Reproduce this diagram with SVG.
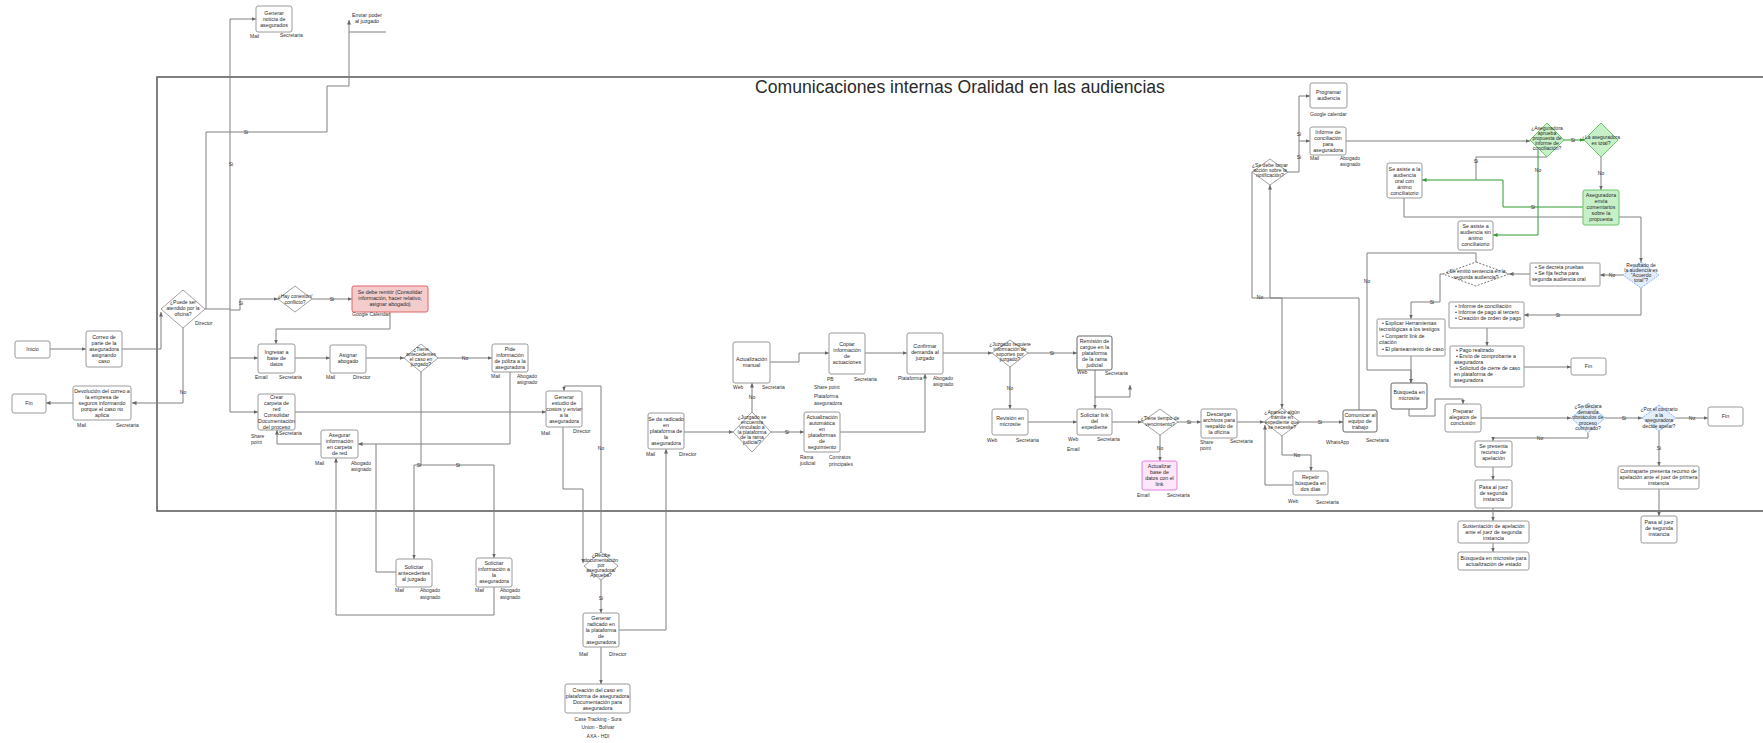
<svg xmlns="http://www.w3.org/2000/svg" width="1763" height="743" viewBox="0 0 1763 743">
<defs>
<marker id="a" markerUnits="userSpaceOnUse" markerWidth="5" markerHeight="5" refX="4.5" refY="2.5" orient="auto"><path d="M0,0.5 L4.5,2.5 L0,4.5 z" fill="#666"/></marker>
<marker id="ag" markerUnits="userSpaceOnUse" markerWidth="5" markerHeight="5" refX="4.5" refY="2.5" orient="auto"><path d="M0,0.5 L4.5,2.5 L0,4.5 z" fill="#2f9a2f"/></marker>
</defs>
<style>
text{font-family:"Liberation Sans",Arial,sans-serif;fill:#2a2a2a}
.t{font-size:5.3px;text-anchor:middle}
.d{font-size:5px;text-anchor:middle}
.l{font-size:5px;fill:#333}
.bl{font-size:5.2px}
.b{fill:#fff;stroke:#9a9a9a;stroke-width:1}
.dm{fill:#fff;stroke:#8a8a8a;stroke-width:0.8}
.red{fill:#f4cccc;stroke:#e06666;stroke-width:1}
.pink{fill:#fde7f9;stroke:#e67ee0;stroke-width:1}
.grn{fill:#c8f0c8;stroke:#6cc46c;stroke-width:1}
.blu{fill:#e3eefd;stroke:#8ab4f8;stroke-width:1;stroke-dasharray:2 1}
.dsh{fill:#fff;stroke:#555;stroke-width:0.8;stroke-dasharray:2 1.5}
.c{fill:none;stroke:#808080;stroke-width:1}
.cg{fill:none;stroke:#2f9a2f;stroke-width:1}
.ca{marker-end:url(#a)}
.cga{marker-end:url(#ag)}
.lb{font-size:5px;fill:#333;text-anchor:middle}
</style>
<rect width="1763" height="743" fill="#fff"/>
<rect x="157" y="77" width="1612" height="434" fill="none" stroke="#555" stroke-width="1.5"/>
<text x="960" y="93" style="font-size:17.6px;text-anchor:middle">Comunicaciones internas Oralidad en las audiencias</text>

<g id="connectors">
<path class="c ca" d="M50,349 H86"/>
<path class="c ca" d="M122,349 H161 V312"/>
<path class="c ca" d="M183,328 V403 H132"/>
<text class="lb" x="183" y="394">No</text>
<path class="c ca" d="M73,403 H46"/>
<path class="c" d="M205,309 H230"/>
<path class="c ca" d="M230,412 V19 H256"/>
<text class="lb" x="231" y="166">Si</text>
<path class="c ca" d="M230,358 H258"/>
<path class="c ca" d="M230,412 H258"/>
<path class="c ca" d="M230,310 H240 V299 H278"/>
<text class="lb" x="241" y="305">Si</text>
<path class="c ca" d="M206,309 V132 H327 V86 H349 V20"/>
<text class="lb" x="246" y="134">Si</text>
<path class="c ca" d="M312,299 H352"/>
<text class="lb" x="332" y="301">Si</text>
<path class="c ca" d="M390,312 V329 H276 V344"/>
<path class="c ca" d="M295,358 H330"/>
<path class="c ca" d="M366,358 H404"/>
<path class="c ca" d="M438,358 H492"/>
<text class="lb" x="465" y="360">No</text>
<path class="c" d="M421,372 V465"/>
<path class="c ca" d="M414,465 H494 V558"/>
<path class="c ca" d="M414,465 V559"/>
<text class="lb" x="419" y="467">Si</text>
<text class="lb" x="458" y="467">Si</text>
<path class="c ca" d="M510,372 V444 H358"/>
<path class="c" d="M396,572 H376 V444"/>
<path class="c ca" d="M295,412 H546"/>
<path class="c ca" d="M321,444 H277 V430"/>
<path class="c ca" d="M494,587 V615 H336 V458"/>
<path class="c ca" d="M563,427 V489 H583 V563"/>
<path class="c ca" d="M601,552 V386 H564 V391"/>
<text class="lb" x="601" y="450">No</text>
<path class="c ca" d="M601,580 V613"/>
<text class="lb" x="601" y="600">Si</text>
<path class="c ca" d="M619,630 H666 V449"/>
<path class="c ca" d="M601,647 V684"/>
<path class="c ca" d="M684,432 H733"/>
<path class="c ca" d="M752,412 V383"/>
<text class="lb" x="752" y="399">No</text>
<path class="c ca" d="M771,432 H804"/>
<text class="lb" x="787" y="434">Si</text>
<path class="c ca" d="M770,362 H799 V353 H829"/>
<path class="c ca" d="M865,353 H907"/>
<path class="c ca" d="M840,432 H925 V374"/>
<path class="c ca" d="M943,353 H992"/>
<path class="c ca" d="M1028,353 H1077"/>
<text class="lb" x="1052" y="355">Si</text>
<path class="c ca" d="M1010,367 V409"/>
<text class="lb" x="1010" y="390">No</text>
<path class="c ca" d="M1028,422 H1077"/>
<path class="c ca" d="M1095,370 V409"/>
<path class="c ca" d="M1095,397 H1130 V385"/>
<path class="c ca" d="M1112,422 H1142"/>
<path class="c ca" d="M1160,435 V461"/>
<text class="lb" x="1160" y="450">No</text>
<path class="c ca" d="M1178,422 H1201"/>
<text class="lb" x="1189" y="424">Si</text>
<path class="c ca" d="M1237,422 H1264"/>
<path class="c ca" d="M1282,436 V455 H1311 V471"/>
<text class="lb" x="1297" y="457">No</text>
<path class="c ca" d="M1293,485 H1265 V425"/>
<path class="c ca" d="M1300,422 H1343"/>
<text class="lb" x="1320" y="424">Si</text>
<path class="c ca" d="M1359,410 V298 H1270 V185"/>
<path class="c ca" d="M1252,172 V298 H1282 V408"/>
<text class="lb" x="1260" y="299">No</text>
<path class="c ca" d="M1288,172 H1299 V96 H1310"/>
<path class="c ca" d="M1299,141 H1310"/>
<text class="lb" x="1299" y="136">Si</text>
<text class="lb" x="1299" y="159">Si</text>
<path class="c ca" d="M1346,141 H1530"/>
<path class="cg cga" d="M1564,140 H1584"/>
<text class="lb" x="1573" y="142">Si</text>
<path class="c ca" d="M1601,157 V190"/>
<text class="lb" x="1601" y="175">No</text>
<path class="cg cga" d="M1583,207 H1503 V180 H1422"/>
<text class="lb" x="1533" y="209">Si</text>
<path class="c" d="M1547,157 H1476 V180"/>
<text class="lb" x="1476" y="163">Si</text>
<path class="cg cga" d="M1538,150 V235 H1493"/>
<text class="lb" x="1538" y="172">No</text>
<path class="c ca" d="M1404,198 V217 H1641 V262"/>
<path class="c ca" d="M1623,275 H1600"/>
<text class="lb" x="1612" y="277">No</text>
<path class="c ca" d="M1530,274 H1509"/>
<path class="c ca" d="M1443,274 H1440 V302 H1411 V319"/>
<text class="lb" x="1432" y="304">Si</text>
<path class="c ca" d="M1476,262 V253 H1367 V370 H1411 V383"/>
<text class="lb" x="1367" y="283">No</text>
<path class="c ca" d="M1411,356 V383"/>
<path class="c ca" d="M1409,409 V416 H1435 V399 H1463 V404"/>
<path class="c ca" d="M1481,418 H1571"/>
<path class="c ca" d="M1605,418 H1642"/>
<text class="lb" x="1624" y="420">Si</text>
<path class="c ca" d="M1676,418 H1708"/>
<text class="lb" x="1692" y="420">No</text>
<path class="c ca" d="M1659,431 V466"/>
<text class="lb" x="1659" y="450">Si</text>
<path class="c ca" d="M1659,489 V516"/>
<path class="c ca" d="M1588,433 V438 H1493 V441"/>
<text class="lb" x="1540" y="440">No</text>
<path class="c ca" d="M1493,467 V480"/>
<path class="c ca" d="M1493,508 V521"/>
<path class="c ca" d="M1493,543 V552"/>
<path class="c ca" d="M1641,288 V315 H1524"/>
<text class="lb" x="1558" y="317">Si</text>
<path class="c ca" d="M1487,328 V346"/>
<path class="c ca" d="M1524,367 H1571"/>
<path class="c" d="M349,32 H386"/>
</g>

<g id="n_inicio"><rect class="b" x="15" y="341" width="35" height="17" rx="2"/><text class="t" x="32.5" y="351">Inicio</text></g>
<g id="n_correo"><rect class="b" x="86" y="331" width="36" height="36" rx="2"/><text class="t" x="104" y="339"><tspan x="104">Correo de</tspan><tspan x="104" dy="6">parte de la</tspan><tspan x="104" dy="6">aseguradora</tspan><tspan x="104" dy="6">asignando</tspan><tspan x="104" dy="6">caso</tspan></text></g>
<g id="d_atendido"><polygon class="dm" points="183,290 205,309 183,328 161,309"/><text class="d" x="183" y="304"><tspan x="183">¿Puede ser</tspan><tspan x="183" dy="6">atendido por la</tspan><tspan x="183" dy="6">oficina?</tspan></text><text class="l" x="195" y="325">Director</text></g>
<g id="n_devolucion"><rect class="b" x="73" y="386" width="58" height="34" rx="2"/><text class="t" x="102" y="393"><tspan x="102">Devolución del correo a</tspan><tspan x="102" dy="6">la empresa de</tspan><tspan x="102" dy="6">seguros informando</tspan><tspan x="102" dy="6">porque el caso no</tspan><tspan x="102" dy="6">aplica</tspan></text><text class="l" x="77" y="427">Mail</text><text class="l" x="116" y="427">Secretaria</text></g>
<g id="n_fin1"><rect class="b" x="12" y="394" width="34" height="19" rx="2"/><text class="t" x="29" y="405">Fin</text></g>
<g id="n_noticia"><rect class="b" x="256" y="6" width="36" height="26" rx="2"/><text class="t" x="274" y="15"><tspan x="274">Generar</tspan><tspan x="274" dy="6">noticia de</tspan><tspan x="274" dy="6">asegurados</tspan></text><text class="l" x="250" y="38">Mail</text><text class="l" x="280" y="37">Secretaria</text></g>
<g id="n_poder"><text class="t" x="367" y="17"><tspan x="367">Enviar poder</tspan><tspan x="367" dy="6">al juzgado</tspan></text></g>
<g id="d_conexion"><polygon class="dm" points="295,286 312,299 295,312 278,299"/><text class="d" x="295" y="298"><tspan x="295">¿Hay conexión/</tspan><tspan x="295" dy="6">conflicto?</tspan></text></g>
<g id="n_remitir"><rect class="red" x="352" y="286" width="76" height="26" rx="2"/><text class="t" x="390" y="294"><tspan x="390">Se debe remitir (Consolidar</tspan><tspan x="390" dy="6">información, hacer relativo,</tspan><tspan x="390" dy="6">asignar abogado)</tspan></text><text class="l" x="352" y="316">Google Calendar</text></g>
<g id="n_ingresar"><rect class="b" x="258" y="344" width="37" height="29" rx="2"/><text class="t" x="276.5" y="354"><tspan x="276.5">Ingresar a</tspan><tspan x="276.5" dy="6">base de</tspan><tspan x="276.5" dy="6">datos</tspan></text><text class="l" x="255" y="379">Email</text><text class="l" x="279" y="379">Secretaria</text></g>
<g id="n_asignar"><rect class="b" x="330" y="345" width="36" height="28" rx="2"/><text class="t" x="348" y="357"><tspan x="348">Asignar</tspan><tspan x="348" dy="6">abogado</tspan></text><text class="l" x="326" y="379">Mail</text><text class="l" x="353" y="379">Director</text></g>
<g id="d_antecedentes"><polygon class="dm" points="421,344 438,358 421,372 404,358"/><text class="d" x="421" y="351"><tspan x="421">¿Tiene</tspan><tspan x="421" dy="5">antecedentes</tspan><tspan x="421" dy="5">el caso en</tspan><tspan x="421" dy="5">juzgado?</tspan></text></g>
<g id="n_carpeta"><rect class="b" x="258" y="394" width="37" height="36" rx="2"/><text class="t" x="276.5" y="399"><tspan x="276.5">Crear</tspan><tspan x="276.5" dy="6">carpeta de</tspan><tspan x="276.5" dy="6">red</tspan><tspan x="276.5" dy="6">Consolidar</tspan><tspan x="276.5" dy="6">Documentación</tspan><tspan x="276.5" dy="6">del proceso</tspan></text><text class="l" x="251" y="438">Share</text><text class="l" x="251" y="444">point</text><text class="l" x="279" y="435">Secretaria</text></g>
<g id="n_asegurar"><rect class="b" x="321" y="430" width="37" height="28" rx="2"/><text class="t" x="339.5" y="437"><tspan x="339.5">Asegurar</tspan><tspan x="339.5" dy="6">información</tspan><tspan x="339.5" dy="6">en carpeta</tspan><tspan x="339.5" dy="6">de red</tspan></text><text class="l" x="315" y="465">Mail</text><text class="l" x="351" y="465">Abogado</text><text class="l" x="351" y="471">asignado</text></g>
<g id="n_poliza"><rect class="b" x="492" y="344" width="36" height="28" rx="2"/><text class="t" x="510" y="351"><tspan x="510">Pide</tspan><tspan x="510" dy="6">información</tspan><tspan x="510" dy="6">de póliza a la</tspan><tspan x="510" dy="6">aseguradora</tspan></text><text class="l" x="491" y="378">Mail</text><text class="l" x="517" y="378">Abogado</text><text class="l" x="517" y="384">asignado</text></g>
<g id="n_estudio"><rect class="b" x="546" y="391" width="36" height="36" rx="2"/><text class="t" x="564" y="399"><tspan x="564">Generar</tspan><tspan x="564" dy="6">estudio de</tspan><tspan x="564" dy="6">costos y enviar</tspan><tspan x="564" dy="6">a la</tspan><tspan x="564" dy="6">aseguradora</tspan></text><text class="l" x="541" y="435">Mail</text><text class="l" x="573" y="433">Director</text></g>
<g id="n_antecedentes_juz"><rect class="b" x="396" y="559" width="36" height="28" rx="2"/><text class="t" x="414" y="569"><tspan x="414">Solicitar</tspan><tspan x="414" dy="6">antecedentes</tspan><tspan x="414" dy="6">al juzgado</tspan></text><text class="l" x="395" y="592">Mail</text><text class="l" x="420" y="592">Abogado</text><text class="l" x="420" y="599">asignado</text></g>
<g id="n_info_aseg"><rect class="b" x="476" y="558" width="36" height="29" rx="2"/><text class="t" x="494" y="565"><tspan x="494">Solicitar</tspan><tspan x="494" dy="6">información a</tspan><tspan x="494" dy="6">la</tspan><tspan x="494" dy="6">aseguradora</tspan></text><text class="l" x="475" y="592">Mail</text><text class="l" x="500" y="592">Abogado</text><text class="l" x="500" y="599">asignado</text></g>
<g id="d_recibe"><polygon class="dm" points="601,552 618,566 601,580 584,566"/><text class="d" x="601" y="557"><tspan x="601">¿Recibe</tspan><tspan x="601" dy="5">documentación</tspan><tspan x="601" dy="5">por</tspan><tspan x="601" dy="5">aseguradora/</tspan><tspan x="601" dy="5">Aprueba?</tspan></text></g>
<g id="n_generar_rad"><rect class="b" x="583" y="613" width="36" height="34" rx="2"/><text class="t" x="601" y="620"><tspan x="601">Generar</tspan><tspan x="601" dy="6">radicado en</tspan><tspan x="601" dy="6">la plataforma</tspan><tspan x="601" dy="6">de</tspan><tspan x="601" dy="6">aseguradora</tspan></text><text class="l" x="579" y="656">Mail</text><text class="l" x="609" y="656">Director</text></g>
<g id="n_creacion"><rect class="b" x="565" y="684" width="65" height="29" rx="2"/><text class="t" x="597.5" y="692"><tspan x="597.5">Creación del caso en</tspan><tspan x="597.5" dy="6">plataforma de aseguradora</tspan><tspan x="597.5" dy="6">Documentación para</tspan><tspan x="597.5" dy="6">aseguradora</tspan></text><text class="lb" x="598" y="721">Case Tracking - Sura</text><text class="lb" x="598" y="729">Union - Bolívar</text><text class="lb" x="598" y="738">AXA - HDI</text></g>
<g id="n_radicado"><rect class="b" x="648" y="413" width="36" height="36" rx="2"/><text class="t" x="666" y="421"><tspan x="666">Se da radicado</tspan><tspan x="666" dy="6">en</tspan><tspan x="666" dy="6">plataforma de</tspan><tspan x="666" dy="6">la</tspan><tspan x="666" dy="6">aseguradora</tspan></text><text class="l" x="646" y="456">Mail</text><text class="l" x="679" y="456">Director</text></g>
<g id="d_vinculado"><polygon class="dm" points="752,412 771,432 752,452 733,432"/><text class="d" x="752" y="419"><tspan x="752">¿Juzgado se</tspan><tspan x="752" dy="5">encuentra</tspan><tspan x="752" dy="5">vinculado a</tspan><tspan x="752" dy="5">la plataforma</tspan><tspan x="752" dy="5">de la rama</tspan><tspan x="752" dy="5">judicial?</tspan></text></g>
<g id="n_manual"><rect class="b" x="733" y="342" width="37" height="41" rx="2"/><text class="t" x="751.5" y="361"><tspan x="751.5">Actualización</tspan><tspan x="751.5" dy="6">manual</tspan></text><text class="l" x="733" y="389">Web</text><text class="l" x="762" y="389">Secretaria</text></g>
<g id="n_automatica"><rect class="b" x="804" y="412" width="36" height="40" rx="2"/><text class="t" x="822" y="419"><tspan x="822">Actualización</tspan><tspan x="822" dy="6">automática</tspan><tspan x="822" dy="6">en</tspan><tspan x="822" dy="6">plataformas</tspan><tspan x="822" dy="6">de</tspan><tspan x="822" dy="6">seguimiento</tspan></text><text class="l" x="800" y="459">Rama</text><text class="l" x="800" y="465">judicial</text><text class="l" x="829" y="459">Contratos</text><text class="l" x="829" y="466">principales</text></g>
<g id="n_copiar"><rect class="b" x="829" y="333" width="36" height="41" rx="2"/><text class="t" x="847" y="346"><tspan x="847">Copiar</tspan><tspan x="847" dy="6">información</tspan><tspan x="847" dy="6">de</tspan><tspan x="847" dy="6">actuaciones</tspan></text><text class="l" x="827" y="381">PB</text><text class="l" x="854" y="381">Secretaria</text><text class="l" x="814" y="389">Share point</text><text class="l" x="814" y="398">Plataforma</text><text class="l" x="814" y="405">aseguradora</text></g>
<g id="n_confirmar"><rect class="b" x="907" y="333" width="36" height="41" rx="2"/><text class="t" x="925" y="348"><tspan x="925">Confirmar</tspan><tspan x="925" dy="6">demanda al</tspan><tspan x="925" dy="6">juzgado</tspan></text><text class="l" x="898" y="380">Plataforma</text><text class="l" x="933" y="380">Abogado</text><text class="l" x="933" y="386">asignado</text></g>
<g id="d_soportes"><polygon class="dm" points="1010,340 1028,353 1010,367 992,353"/><text class="d" x="1010" y="346"><tspan x="1010">¿Juzgado requiere</tspan><tspan x="1010" dy="5">información de</tspan><tspan x="1010" dy="5">soportes por</tspan><tspan x="1010" dy="5">juzgado?</tspan></text></g>
<g id="n_remision"><rect class="b" x="1077" y="336" width="35" height="34" rx="2" style="stroke:#666"/><text class="t" x="1094.5" y="343"><tspan x="1094.5">Remisión de</tspan><tspan x="1094.5" dy="6">cargue en la</tspan><tspan x="1094.5" dy="6">plataforma</tspan><tspan x="1094.5" dy="6">de la rama</tspan><tspan x="1094.5" dy="6">judicial</tspan></text><text class="l" x="1077" y="374">Web</text><text class="l" x="1105" y="375">Secretaria</text></g>
<g id="n_revision"><rect class="b" x="992" y="409" width="36" height="26" rx="2"/><text class="t" x="1010" y="420"><tspan x="1010">Revisión en</tspan><tspan x="1010" dy="6">microsite</tspan></text><text class="l" x="987" y="442">Web</text><text class="l" x="1016" y="442">Secretaria</text></g>
<g id="n_link"><rect class="b" x="1077" y="409" width="35" height="26" rx="2"/><text class="t" x="1094.5" y="417"><tspan x="1094.5">Solicitar link</tspan><tspan x="1094.5" dy="6">del</tspan><tspan x="1094.5" dy="6">expediente</tspan></text><text class="l" x="1068" y="441">Web</text><text class="l" x="1097" y="441">Secretaria</text><text class="l" x="1067" y="451">Email</text></g>
<g id="d_tiempo"><polygon class="dm" points="1160,409 1178,422 1160,435 1142,422"/><text class="d" x="1160" y="420"><tspan x="1160">¿Tiene tiempo de</tspan><tspan x="1160" dy="6">vencimiento?</tspan></text></g>
<g id="n_actualizar"><rect class="pink" x="1142" y="461" width="35" height="29" rx="2"/><text class="t" x="1159.5" y="468"><tspan x="1159.5">Actualizar</tspan><tspan x="1159.5" dy="6">base de</tspan><tspan x="1159.5" dy="6">datos con el</tspan><tspan x="1159.5" dy="6">link</tspan></text><text class="l" x="1137" y="497">Email</text><text class="l" x="1167" y="497">Secretaria</text></g>
<g id="n_descargar"><rect class="b" x="1201" y="409" width="36" height="29" rx="2"/><text class="t" x="1219" y="416"><tspan x="1219">Descargar</tspan><tspan x="1219" dy="6">archivos para</tspan><tspan x="1219" dy="6">respaldo de</tspan><tspan x="1219" dy="6">la oficina</tspan></text><text class="l" x="1200" y="444">Share</text><text class="l" x="1200" y="450">point</text><text class="l" x="1230" y="443">Secretaria</text></g>
<g id="d_tramite"><polygon class="dm" points="1282,408 1300,422 1282,436 1264,422"/><text class="d" x="1282" y="414"><tspan x="1282">¿Aparece algún</tspan><tspan x="1282" dy="5">trámite en</tspan><tspan x="1282" dy="5">expediente que</tspan><tspan x="1282" dy="5">se necesite?</tspan></text></g>
<g id="n_repetir"><rect class="b" x="1293" y="471" width="35" height="24" rx="2"/><text class="t" x="1310.5" y="479"><tspan x="1310.5">Repetir</tspan><tspan x="1310.5" dy="6">búsqueda en</tspan><tspan x="1310.5" dy="6">dos días</tspan></text><text class="l" x="1288" y="503">Web</text><text class="l" x="1316" y="504">Secretaria</text></g>
<g id="n_comunicar"><rect class="b" x="1343" y="410" width="34" height="22" rx="2" style="stroke:#666"/><text class="t" x="1360" y="417"><tspan x="1360">Comunicar al</tspan><tspan x="1360" dy="6">equipo de</tspan><tspan x="1360" dy="6">trabajo</tspan></text><text class="l" x="1326" y="444">WhatsApp</text><text class="l" x="1366" y="442">Secretaria</text></g>
<g id="d_accion"><polygon class="dm" points="1270,159 1288,172 1270,185 1252,172"/><text class="d" x="1270" y="167"><tspan x="1270">¿Se debe tomar</tspan><tspan x="1270" dy="5">acción sobre la</tspan><tspan x="1270" dy="5">notificación?</tspan></text></g>
<g id="n_programar"><rect class="b" x="1310" y="83" width="37" height="25" rx="2"/><text class="t" x="1328.5" y="94"><tspan x="1328.5">Programar</tspan><tspan x="1328.5" dy="6">audiencia</tspan></text><text class="l" x="1310" y="116">Google calendar</text></g>
<g id="n_informe_conc"><rect class="b" x="1310" y="127" width="36" height="28" rx="2"/><text class="t" x="1328" y="134"><tspan x="1328">Informe de</tspan><tspan x="1328" dy="6">conciliación</tspan><tspan x="1328" dy="6">para</tspan><tspan x="1328" dy="6">aseguradora</tspan></text><text class="l" x="1310" y="160">Mail</text><text class="l" x="1340" y="160">Abogado</text><text class="l" x="1340" y="166">asignado</text></g>
<g id="d_aprueba"><polygon class="grn" points="1547,123 1564,140 1547,157 1530,140"/><text class="d" x="1547" y="130"><tspan x="1547">¿Aseguradora</tspan><tspan x="1547" dy="5">aprueba</tspan><tspan x="1547" dy="5">propuesta de</tspan><tspan x="1547" dy="5">informe de</tspan><tspan x="1547" dy="5">conciliación?</tspan></text></g>
<g id="d_total"><polygon class="grn" points="1601,123 1618,140 1601,157 1584,140"/><text class="d" x="1601" y="139"><tspan x="1601">¿La aseguradora</tspan><tspan x="1601" dy="6">es total?</tspan></text></g>
<g id="n_comentarios"><rect class="grn" x="1583" y="190" width="36" height="35" rx="2"/><text class="t" x="1601" y="197"><tspan x="1601">Aseguradora</tspan><tspan x="1601" dy="6">envía</tspan><tspan x="1601" dy="6">comentarios</tspan><tspan x="1601" dy="6">sobre la</tspan><tspan x="1601" dy="6">propuesta</tspan></text></g>
<g id="n_con_animo"><rect class="b" x="1387" y="163" width="35" height="35" rx="2"/><text class="t" x="1404.5" y="171"><tspan x="1404.5">Se asiste a la</tspan><tspan x="1404.5" dy="6">audiencia</tspan><tspan x="1404.5" dy="6">oral con</tspan><tspan x="1404.5" dy="6">ánimo</tspan><tspan x="1404.5" dy="6">conciliatorio</tspan></text></g>
<g id="n_sin_animo"><rect class="b" x="1458" y="221" width="35" height="29" rx="2"/><text class="t" x="1475.5" y="228"><tspan x="1475.5">Se asiste a</tspan><tspan x="1475.5" dy="6">audiencia sin</tspan><tspan x="1475.5" dy="6">ánimo</tspan><tspan x="1475.5" dy="6">conciliatorio</tspan></text></g>
<g id="d_resultado"><polygon class="blu" points="1641,262 1659,275 1641,288 1623,275"/><text class="d" x="1641" y="267"><tspan x="1641">Resultado de</tspan><tspan x="1641" dy="5">la audiencia es</tspan><tspan x="1641" dy="5">"Acuerdo</tspan><tspan x="1641" dy="5">total"?</tspan></text></g>
<g id="n_pruebas"><rect class="b" x="1530" y="263" width="70" height="23" rx="1"/><text class="bl" x="1535" y="269">•  Se decreta pruebas</text><text class="bl" x="1535" y="275">•  Se fija fecha para</text><text class="bl" x="1532" y="281">segunda audiencia oral</text></g>
<g id="d_sentencia"><polygon class="dsh" points="1476,262 1509,274 1476,286 1443,274"/><text class="d" x="1476" y="273"><tspan x="1476">¿Se emitió sentencia en la</tspan><tspan x="1476" dy="6">segunda audiencia?</tspan></text></g>
<g id="n_explicar"><rect class="b" x="1377" y="319" width="68" height="37" rx="1"/><text class="bl" x="1382" y="325">•  Explicar Herramientas</text><text class="bl" x="1379" y="331">tecnológicas a los testigos</text><text class="bl" x="1382" y="338">•  Compartir link de</text><text class="bl" x="1379" y="344">citación</text><text class="bl" x="1382" y="351">•  El planteamiento de caso</text></g>
<g id="n_busqueda1"><rect class="b" x="1391" y="383" width="36" height="26" rx="2" style="stroke:#666"/><text class="t" x="1409" y="394"><tspan x="1409">Búsqueda en</tspan><tspan x="1409" dy="6">microsite</tspan></text></g>
<g id="n_alegatos"><rect class="b" x="1445" y="404" width="36" height="28" rx="2"/><text class="t" x="1463" y="413"><tspan x="1463">Preparar</tspan><tspan x="1463" dy="6">alegatos de</tspan><tspan x="1463" dy="6">conclusión</tspan></text></g>
<g id="d_declara"><polygon class="blu" points="1588,403 1605,418 1588,433 1571,418"/><text class="d" x="1588" y="408"><tspan x="1588">¿Se declara</tspan><tspan x="1588" dy="5.5">demanda</tspan><tspan x="1588" dy="5.5">obstáculos de</tspan><tspan x="1588" dy="5.5">proceso</tspan><tspan x="1588" dy="5.5">culminado?</tspan></text></g>
<g id="d_apelar"><polygon class="blu" points="1659,405 1676,418 1659,431 1642,418"/><text class="d" x="1659" y="411"><tspan x="1659">¿Por el contrario</tspan><tspan x="1659" dy="5.5">a la</tspan><tspan x="1659" dy="5.5">aseguradora</tspan><tspan x="1659" dy="5.5">decide apelar?</tspan></text></g>
<g id="n_fin2"><rect class="b" x="1708" y="407" width="35" height="19" rx="2"/><text class="t" x="1725.5" y="418">Fin</text></g>
<g id="n_contraparte"><rect class="b" x="1618" y="466" width="81" height="23" rx="2"/><text class="t" x="1658.5" y="473"><tspan x="1658.5">Contraparte presenta recurso de</tspan><tspan x="1658.5" dy="6">apelación ante el juez de primera</tspan><tspan x="1658.5" dy="6">instancia</tspan></text></g>
<g id="n_pasa2"><rect class="b" x="1641" y="516" width="36" height="27" rx="2"/><text class="t" x="1659" y="524"><tspan x="1659">Pasa al juez</tspan><tspan x="1659" dy="6">de segunda</tspan><tspan x="1659" dy="6">instancia</tspan></text></g>
<g id="n_recurso"><rect class="b" x="1475" y="441" width="37" height="26" rx="2"/><text class="t" x="1493.5" y="448"><tspan x="1493.5">Se presenta</tspan><tspan x="1493.5" dy="6">recurso de</tspan><tspan x="1493.5" dy="6">apelación</tspan></text></g>
<g id="n_pasa1"><rect class="b" x="1475" y="480" width="37" height="28" rx="2"/><text class="t" x="1493.5" y="489"><tspan x="1493.5">Pasa al juez</tspan><tspan x="1493.5" dy="6">de segunda</tspan><tspan x="1493.5" dy="6">instancia</tspan></text></g>
<g id="n_sustentacion"><rect class="b" x="1458" y="521" width="71" height="22" rx="2"/><text class="t" x="1493.5" y="528"><tspan x="1493.5">Sustentación de apelación</tspan><tspan x="1493.5" dy="6">ante el juez de segunda</tspan><tspan x="1493.5" dy="6">instancia</tspan></text></g>
<g id="n_busqueda2"><rect class="b" x="1458" y="552" width="71" height="18" rx="2"/><text class="t" x="1493.5" y="560"><tspan x="1493.5">Búsqueda en microsite para</tspan><tspan x="1493.5" dy="6">actualización de estado</tspan></text></g>
<g id="n_informe_pago"><rect class="b" x="1449" y="302" width="75" height="26" rx="1"/><text class="bl" x="1455" y="308">•  Informe de conciliación</text><text class="bl" x="1455" y="314">•  Informe de pago al tercero</text><text class="bl" x="1455" y="320">•  Creación de orden de pago</text></g>
<g id="n_pago"><rect class="b" x="1450" y="346" width="74" height="41" rx="1"/><text class="bl" x="1456" y="352">•  Pago realizado</text><text class="bl" x="1456" y="358">•  Envío de comprobante a</text><text class="bl" x="1454" y="364">aseguradora</text><text class="bl" x="1456" y="370">•  Solicitud de cierre de caso</text><text class="bl" x="1454" y="376">en plataforma de</text><text class="bl" x="1454" y="382">aseguradora</text></g>
<g id="n_fin3"><rect class="b" x="1571" y="358" width="35" height="17" rx="2"/><text class="t" x="1588.5" y="368">Fin</text></g>
</svg>
